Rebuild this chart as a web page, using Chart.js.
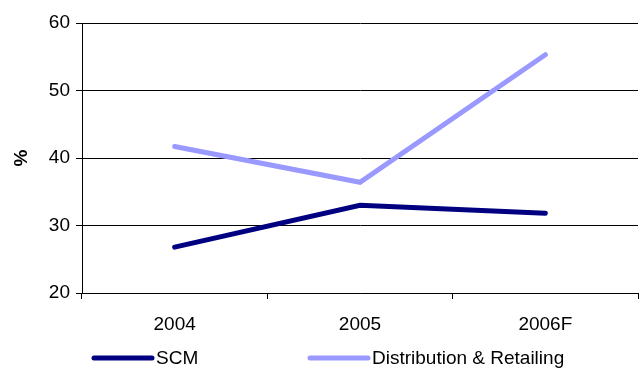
<!DOCTYPE html>
<html>
<head>
<meta charset="utf-8">
<script src="https://cdn.jsdelivr.net/npm/chart.js@4/dist/chart.umd.min.js"></script>
<style>
  html, body { margin: 0; padding: 0; background: #fff; }
  #wrap { width: 644px; height: 372px; position: relative; }
</style>
</head>
<body>
<div id="wrap"><canvas id="c" width="644" height="372"></canvas></div>
<script>
const years = ['2004', '2005', '2006F'];
const scm = [26.8, 33.0, 31.8];
const distribution = [41.7, 36.4, 55.3];
const yTicks = [20, 30, 40, 50, 60];

const FONT = "'Liberation Sans', Arial, sans-serif";

// Legend drawn under the axis: a short thick line followed by the series name
const lineLegend = {
  id: 'lineLegend',
  afterDraw(chart) {
    const ctx = chart.ctx;
    const spots = [{ x0: 94, x1: 152, tx: 156 }, { x0: 310, x1: 368, tx: 372 }];
    const y = 358;
    ctx.save();
    chart.data.datasets.forEach((ds, i) => {
      const s = spots[i];
      ctx.strokeStyle = ds.borderColor;
      ctx.lineWidth = 5;
      ctx.lineCap = 'round';
      ctx.beginPath();
      ctx.moveTo(s.x0, y);
      ctx.lineTo(s.x1, y);
      ctx.stroke();
      ctx.fillStyle = '#000';
      ctx.font = '19px ' + FONT;
      ctx.textBaseline = 'middle';
      ctx.textAlign = 'left';
      ctx.fillText(ds.label, s.tx, y + 1);
    });
    ctx.restore();
  }
};

new Chart(document.getElementById('c'), {
  type: 'line',
  data: {
    labels: years,
    datasets: [
      {
        label: 'SCM',
        data: scm,
        borderColor: '#000080',
        backgroundColor: '#000080',
        borderWidth: 5,
        borderCapStyle: 'round',
        pointRadius: 0,
        tension: 0
      },
      {
        label: 'Distribution & Retailing',
        data: distribution,
        borderColor: '#9999FF',
        backgroundColor: '#9999FF',
        borderWidth: 5,
        borderCapStyle: 'round',
        pointRadius: 0,
        tension: 0
      }
    ]
  },
  options: {
    responsive: false,
    animation: false,
    devicePixelRatio: 1,
    layout: { padding: { top: 23, right: 6, bottom: 0, left: 0 } },
    plugins: {
      legend: { display: false },
      tooltip: { enabled: false }
    },
    scales: {
      x: {
        offset: true,
        afterFit(scale) { scale.height = 79; },
        grid: {
          offset: true,
          drawOnChartArea: false,
          drawTicks: true,
          tickLength: 6,
          color: '#000'
        },
        border: { display: true, color: '#000', width: 1 },
        ticks: {
          color: '#000',
          padding: 14,
          font: { family: FONT, size: 19 }
        }
      },
      y: {
        min: 20,
        max: 60,
        afterFit(scale) { scale.width = 82; },
        afterBuildTicks(scale) { scale.ticks = yTicks.map(v => ({ value: v })); },
        grid: {
          color: '#000',
          lineWidth: 1,
          drawTicks: true,
          tickLength: 6
        },
        border: { display: true, color: '#000', width: 1 },
        ticks: {
          color: '#000',
          padding: 6,
          font: { family: FONT, size: 19 }
        },
        title: {
          display: true,
          text: '%',
          color: '#000',
          padding: { top: 10, bottom: 0 },
          font: { family: FONT, size: 19, weight: 'bold' }
        }
      }
    }
  },
  plugins: [lineLegend]
});
</script>
</body>
</html>
